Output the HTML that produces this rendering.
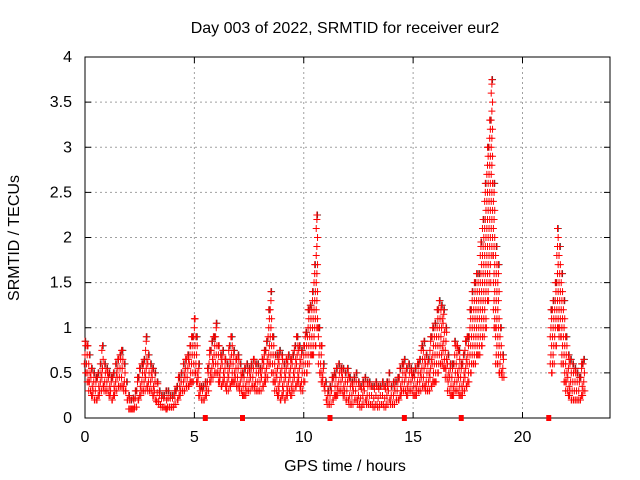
<!DOCTYPE html>
<html><head><meta charset="utf-8"><style>
body{margin:0;background:#fff;}
svg{display:block;font-family:"Liberation Sans",sans-serif;font-size:16px;}
</style></head><body>
<svg id="chart" width="640" height="480" viewBox="0 0 640 480">
<rect width="640" height="480" fill="#fff"/>
<text x="345" y="33" text-anchor="middle">Day 003 of 2022, SRMTID for receiver eur2</text>
<text transform="translate(19,238) rotate(-90)" text-anchor="middle">SRMTID / TECUs</text>
<text x="345" y="471" text-anchor="middle">GPS time / hours</text>
<g id="grid"></g><g id="axes"></g><g id="black"></g><g id="red"></g><g id="gaps"></g>
</svg>
<script>
const xTicks=[0,5,10,15,20];
const yTicks=[0,0.5,1,1.5,2,2.5,3,3.5,4];
const yTickLabels=["0","0.5","1","1.5","2","2.5","3","3.5","4"];
const seg1Start=0.0;
const seg1Hi=[0.85,0.8,0.7,0.55,0.5,0.45,0.5,0.6,0.8,0.6,
0.55,0.5,0.45,0.5,0.6,0.65,0.7,0.75,0.6,0.4,
0.25,0.2,0.22,0.3,0.45,0.55,0.6,0.65,0.9,0.7,
0.6,0.55,0.5,0.4,0.3,0.25,0.25,0.3,0.3,0.25,
0.25,0.3,0.35,0.45,0.5,0.6,0.65,0.7,0.8,0.9,
1.1,0.9,0.6,0.35,0.35,0.4,0.55,0.75,0.85,0.9,
1.05,0.8,0.7,0.75,0.65,0.6,0.8,0.9,0.75,0.65,
0.7,0.6,0.5,0.55,0.6,0.55,0.6,0.65,0.6,0.6,
0.55,0.65,0.75,0.85,1.2,1.4,0.9,0.7,0.7,0.75,
0.7,0.6,0.65,0.7,0.65,0.7,0.8,0.9,0.8,0.75,
0.8,0.95,1.2,1.25,1.4,1.7,2.25,1.0,0.8,0.6,
0.4,0.3,0.35,0.45,0.5,0.55,0.6,0.55,0.55,0.5,
0.55,0.45,0.4,0.45,0.5,0.4,0.35,0.4,0.45,0.4,
0.4,0.35,0.35,0.4,0.35,0.35,0.4,0.35,0.4,0.5,
0.35,0.4,0.4,0.45,0.55,0.6,0.65,0.55,0.6,0.55,
0.5,0.55,0.6,0.65,0.8,0.85,0.7,0.65,0.9,1.0,
1.05,1.2,1.3,1.25,1.2,1.0,0.7,0.6,0.6,0.85,
0.8,0.75,0.6,0.7,0.85,0.9,1.2,1.4,1.5,1.6,
1.6,1.95,2.2,2.6,3.0,3.3,3.75,2.6,1.9,1.7,
1.0,0.7];
const seg1Lo=[0.5,0.4,0.3,0.25,0.2,0.2,0.25,0.3,0.35,0.3,
0.3,0.25,0.2,0.25,0.3,0.35,0.35,0.35,0.3,0.2,
0.1,0.1,0.1,0.12,0.2,0.25,0.3,0.3,0.35,0.3,
0.3,0.25,0.2,0.18,0.15,0.12,0.12,0.1,0.12,0.12,
0.12,0.15,0.2,0.25,0.3,0.3,0.35,0.35,0.4,0.4,
0.5,0.4,0.25,0.2,0.2,0.25,0.3,0.4,0.45,0.5,
0.5,0.4,0.35,0.4,0.35,0.3,0.35,0.4,0.4,0.35,
0.35,0.3,0.25,0.25,0.3,0.3,0.35,0.35,0.3,0.3,
0.3,0.35,0.4,0.45,0.6,0.5,0.4,0.3,0.25,0.2,
0.25,0.2,0.25,0.3,0.25,0.3,0.35,0.4,0.35,0.3,
0.4,0.5,0.6,0.7,0.7,0.8,1.0,0.5,0.4,0.35,
0.2,0.15,0.15,0.2,0.25,0.25,0.3,0.3,0.25,0.2,
0.2,0.15,0.15,0.2,0.2,0.15,0.12,0.15,0.2,0.15,
0.15,0.15,0.12,0.15,0.12,0.15,0.15,0.12,0.15,0.2,
0.15,0.15,0.2,0.2,0.25,0.3,0.3,0.25,0.3,0.3,
0.25,0.25,0.3,0.3,0.35,0.35,0.3,0.3,0.35,0.4,
0.4,0.5,0.6,0.6,0.55,0.45,0.3,0.25,0.25,0.3,
0.3,0.25,0.25,0.3,0.35,0.4,0.5,0.6,0.6,0.7,
0.7,0.8,0.9,1.0,1.3,1.5,1.8,1.0,0.6,0.5,
0.5,0.45];
const seg2Start=21.3;
const seg2Hi=[1.2,1.3,1.5,2.1,1.9,1.6,1.3,0.9,0.7,0.65,0.6,0.55,0.5,0.45,0.6,0.65];
const seg2Lo=[0.5,0.6,0.8,1.0,0.9,0.6,0.4,0.3,0.25,0.2,0.2,0.2,0.2,0.2,0.25,0.3];
const gapHours=[5.5,7.2,11.2,14.6,17.2,21.2];

const X0=85,X1=610,Y0=418,Y1=57;
const xs=h=>X0+h*(X1-X0)/24;
const ys=v=>Y0-v*(Y0-Y1)/4;
const NS="http://www.w3.org/2000/svg";
function mk(tag,attrs,parent){const e=document.createElementNS(NS,tag);for(const k in attrs)e.setAttribute(k,attrs[k]);parent.appendChild(e);return e;}
const grid=document.getElementById('grid'),axes=document.getElementById('axes');
xTicks.forEach(t=>{
  const x=xs(t);
  if(t>0){const g=mk('line',{x1:x,x2:x,y1:Y1,y2:Y0,stroke:'#a0a0a0','stroke-dasharray':'2,3'},grid);
  
  }
  mk('line',{x1:x,x2:x,y1:Y0,y2:Y0-6,stroke:'#000'},axes);
  mk('line',{x1:x,x2:x,y1:Y1,y2:Y1+6,stroke:'#000'},axes);
  const l=mk('text',{x:x,y:Y0+24,'text-anchor':'middle'},axes);l.textContent=t;
  
  
});
yTicks.forEach((t,i)=>{
  const y=ys(t);
  if(t>0&&t<4){const g=mk('line',{x1:X0,x2:X1,y1:y,y2:y,stroke:'#a0a0a0','stroke-dasharray':'2,3'},grid);
  
  }
  mk('line',{x1:X0,x2:X0+6,y1:y,y2:y,stroke:'#000'},axes);
  mk('line',{x1:X1,x2:X1-6,y1:y,y2:y,stroke:'#000'},axes);
  const l=mk('text',{x:X0-13,y:y+5,'text-anchor':'end'},axes);l.textContent=yTickLabels[i];
  
  
});
const frame=mk('rect',{x:X0,y:Y1,width:X1-X0,height:Y0-Y1,fill:'none',stroke:'#000'},axes);


function plus(g,h,v,c){
  const x=xs(h),y=ys(v);
  const p=mk('path',{d:`M${x-3.5},${y}h7M${x},${y-3.5}v7`,stroke:c,'stroke-width':1,fill:'none'},g);
  
  
}
const black=document.getElementById('black'),red=document.getElementById('red');
function drawSeg(start,hi,lo){
  hi.forEach((h,i)=>{
    const t=start+i*0.1;
    plus(black,t+0.03,h,'#333');
    for(let v=lo[i];v<h;v+=0.1){plus(red,t+((Math.round(v*100)%3)-1)*0.03,v,'#f00');}
    plus(red,t,h,'#f00');plus(red,t+0.05,lo[i],'#f00');
  });
}
drawSeg(seg1Start,seg1Hi,seg1Lo);
drawSeg(seg2Start,seg2Hi,seg2Lo);
const gaps=document.getElementById('gaps');
gapHours.forEach(h=>{
  const r=mk('rect',{x:xs(h)-2.5,y:Y0-3,width:5,height:6,fill:'#f00'},gaps);
  
  
});
</script>
</body></html>
